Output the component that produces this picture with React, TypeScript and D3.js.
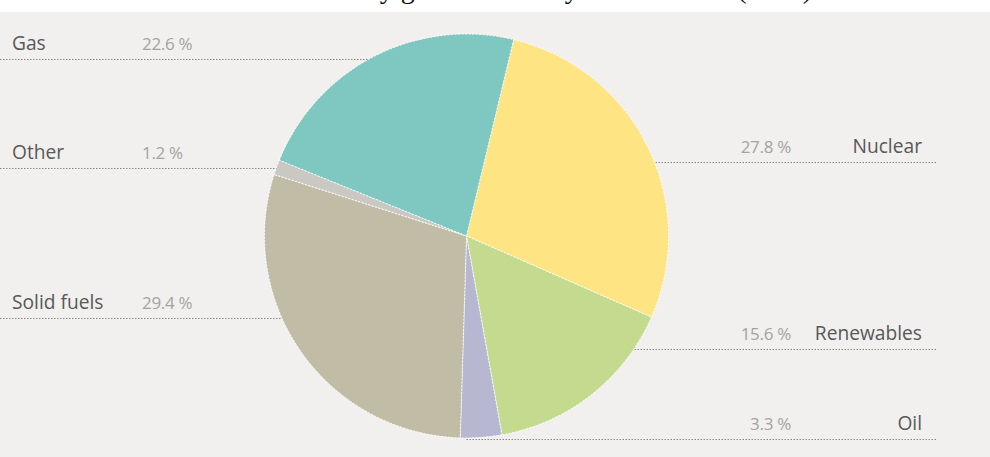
import React from "react";
import * as d3 from "d3";

const categories = ["Nuclear", "Renewables", "Oil", "Solid fuels", "Other", "Gas"];
const shares = [27.8, 15.6, 3.3, 29.4, 1.2, 22.6];
const colors = ["#fee483", "#c4db8f", "#b8b7d2", "#c1bca5", "#cac8c3", "#7fc7c1"];
const sides = ["right", "right", "right", "left", "left", "left"];
const labelRowY = [162, 349, 439, 318, 168, 59];
const title = "Fuel mix by gross electricity in the EU-28 (2013)";

const W = 990;
const H = 457;

export default function App() {
  const cx = 466.5;
  const cy = 236;
  const r = 202;
  const start = (13.5 * Math.PI) / 180;
  const pie = d3
    .pie<number>()
    .sort(null)
    .value((d) => d)
    .startAngle(start)
    .endAngle(start + 2 * Math.PI);
  const arcs = pie(shares);
  const arc = d3.arc<d3.PieArcDatum<number>>().innerRadius(0).outerRadius(r);
  const font = "'Open Sans', 'Noto Sans', sans-serif";

  return (
    <svg
      width={W}
      height={H}
      style={{ position: "absolute", left: 0, top: 0, display: "block" }}
    >
      <rect x={0} y={0} width={W} height={H} fill="#ffffff" />
      <rect x={0} y={12} width={W} height={H - 12} fill="#f1f0ee" />
      <text
        x={812}
        y={-2}
        textAnchor="end"
        fontFamily="'Liberation Serif', 'DejaVu Serif', serif"
        fontSize={28}
        fill="#111"
      >
        {title}
      </text>
      {categories.map((c, i) => {
        const y = labelRowY[i];
        const left = sides[i] === "left";
        return (
          <line
            key={"l" + c}
            x1={left ? 0 : cx}
            x2={left ? cx : 936}
            y1={y + 0.5}
            y2={y + 0.5}
            stroke="#888888"
            strokeWidth={1}
            strokeDasharray="1.5,1.5"
          />
        );
      })}
      <g transform={`translate(${cx},${cy})`}>
        {arcs.map((a, i) => (
          <path
            key={categories[i]}
            d={arc(a) || ""}
            fill={colors[i]}
            stroke="#ffffff"
            strokeWidth={0.9}
            strokeDasharray="2,1.5"
          />
        ))}
      </g>
      {categories.map((c, i) => {
        const y = labelRowY[i] - 9;
        const left = sides[i] === "left";
        return (
          <g key={"t" + c} fontFamily={font}>
            <text
              x={left ? 12 : 922}
              y={y}
              textAnchor={left ? "start" : "end"}
              fontSize={19.2}
              fill="#585858"
            >
              {c}
            </text>
            <text
              x={left ? 142 : 791}
              y={y}
              textAnchor={left ? "start" : "end"}
              fontSize={17}
              fill="#a3a3a3"
              letterSpacing={-0.3}
            >
              {shares[i].toFixed(1) + " %"}
            </text>
          </g>
        );
      })}
    </svg>
  );
}
